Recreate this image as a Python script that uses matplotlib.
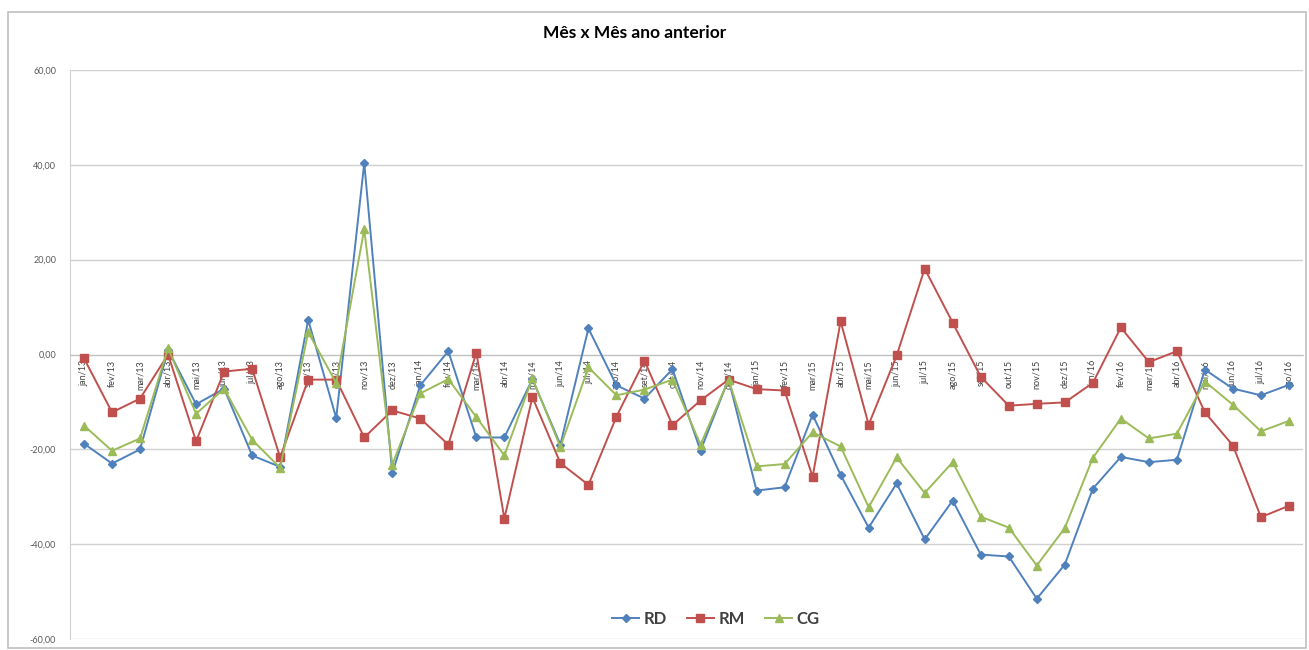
import matplotlib.pyplot as plt
from matplotlib.patches import Rectangle
from matplotlib.ticker import FuncFormatter

plt.rcParams['font.family'] = ['Lato', 'DejaVu Sans']

meses = ['jan', 'fev', 'mar', 'abr', 'mai', 'jun', 'jul', 'ago', 'set', 'out', 'nov', 'dez']
anos = ['13', '14', '15', '16']
labels = [m + '/' + a for a in anos for m in meses][:44]

rd = [-18.8, -23.0, -20.0, 1.0, -10.5, -7.2, -21.3, -23.7, 7.3, -13.4, 40.4, -25.0,
      -6.5, 0.7, -17.5, -17.5, -5.2, -19.0, 5.5, -6.5, -9.3, -3.1, -20.3, -5.2,
      -28.7, -28.0, -12.7, -25.4, -36.5, -27.2, -39.0, -30.8, -42.2, -42.6, -51.5, -44.3,
      -28.3, -21.6, -22.7, -22.2, -3.2, -7.2, -8.6, -6.4]
rm = [-0.8, -12.2, -9.3, 0.0, -18.3, -3.6, -3.0, -21.7, -5.3, -5.3, -17.5, -11.8,
      -13.5, -19.0, 0.4, -34.6, -9.0, -22.9, -27.5, -13.1, -1.3, -14.9, -9.7, -5.3,
      -7.3, -7.6, -25.8, 7.0, -14.8, -0.2, 18.1, 6.7, -4.7, -10.8, -10.4, -10.1,
      -6.0, 5.7, -1.6, 0.7, -12.2, -19.2, -34.3, -31.9]
cg = [-15.0, -20.3, -17.7, 1.3, -12.5, -7.2, -18.0, -23.9, 4.7, -6.0, 26.4, -23.2,
      -8.2, -5.2, -13.2, -21.3, -5.0, -19.5, -2.7, -8.6, -7.4, -5.3, -19.0, -5.3,
      -23.6, -23.1, -16.4, -19.4, -32.2, -21.7, -29.2, -22.7, -34.2, -36.5, -44.5, -36.6,
      -21.8, -13.5, -17.7, -16.7, -5.7, -10.6, -16.2, -14.0]

series = [('RD', rd, '#4F81BD', 'D', 4.5),
          ('RM', rm, '#C0504D', 's', 5.5),
          ('CG', cg, '#9BBB59', '^', 5.5)]

fig = plt.figure(figsize=(13.09, 6.5), dpi=100)
fig.patches.append(Rectangle((8 / 1309, 2 / 650), 1298 / 1309, 636 / 650,
                             transform=fig.transFigure, fill=False,
                             edgecolor='#bfbfbf', linewidth=1.2))

ax = fig.add_axes([70 / 1309, 11 / 650, 1233 / 1309, 569 / 650])
x = range(len(labels))
for name, vals, color, mk, ms in series:
    ax.plot(x, vals, color=color, marker=mk, markersize=ms, linewidth=1.4,
            markeredgecolor=color, label=name, zorder=3)

ax.set_xlim(-0.5, len(labels) - 0.5)
ax.set_ylim(-60, 60)
ax.set_yticks(range(-60, 61, 20))
ax.yaxis.set_major_formatter(FuncFormatter(lambda v, p: ('%.2f' % v).replace('.', ',')))
ax.grid(axis='y', color='#d0d0d0', linewidth=1.0, zorder=0)
ax.set_axisbelow(True)

ax.spines['top'].set_visible(False)
ax.spines['right'].set_visible(False)
ax.spines['left'].set_color('#d0d0d0')
ax.spines['bottom'].set_position(('data', 0))
ax.spines['bottom'].set_color('#c0c0c0')

ax.set_xticks(list(x))
ax.set_xticklabels(labels, rotation=90, fontsize=6.5, color='#404040')
ax.tick_params(axis='x', length=0, pad=4)
ax.tick_params(axis='y', length=0, pad=10, labelsize=6.5, labelcolor='#595959')

fig.text(0.4845, 1 - 33 / 650, 'Mês x Mês ano anterior', ha='center', va='center',
         fontsize=12.5, fontweight='bold', color='#000000')

leg = ax.legend(loc='center', bbox_to_anchor=(0.524, 0.035), ncol=3, frameon=False,
                handlelength=1.6, handletextpad=0.3, columnspacing=1.2,
                prop={'size': 12, 'weight': 'bold'})
for t in leg.get_texts():
    t.set_color('#404040')

fig.savefig('out.png', dpi=100)
